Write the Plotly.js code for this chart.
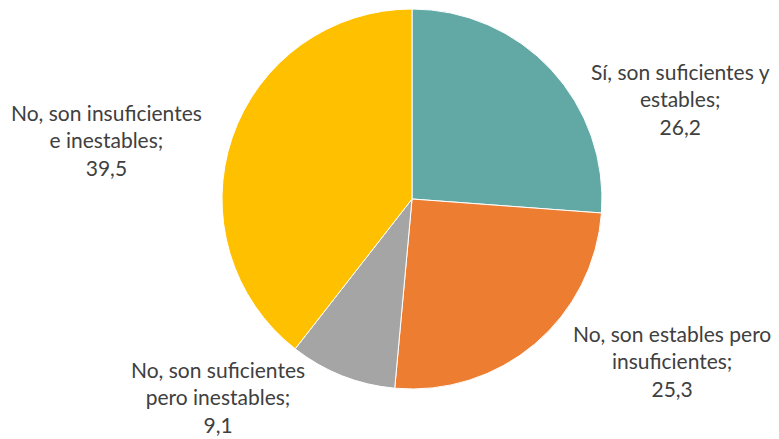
<!DOCTYPE html>
<html>
<head>
<meta charset="utf-8">
<script src="https://cdn.plot.ly/plotly-3.0.1.min.js"></script>
<style>html,body{margin:0;padding:0;background:#fff;}#chart{width:779px;height:439px;}</style>
</head>
<body>
<div id="chart"></div>
<script>
const categories = ["Sí, son suficientes y estables", "No, son estables pero insuficientes", "No, son suficientes pero inestables", "No, son insuficientes e inestables"];
const labelLines = ["Sí, son suficientes y<br>estables;", "No, son estables pero<br>insuficientes;", "No, son suficientes<br>pero inestables;", "No, son insuficientes<br>e inestables;"];
const values = [26.2, 25.3, 9.1, 39.5];
const colors = ["#62A9A6", "#ED7D31", "#A5A5A5", "#FFC000"];

const labelPos = [[680, 99], [672, 361], [218, 397], [106, 140]];

const fmt = v => v.toFixed(1).replace(".", ",");

const annotations = values.map((v, i) => ({
  xref: "paper", yref: "paper",
  x: labelPos[i][0] / 779, y: 1 - labelPos[i][1] / 439,
  xanchor: "center", yanchor: "middle",
  text: labelLines[i] + "<br>" + fmt(v),
  showarrow: false,
  align: "center",
  font: {family: "Lato, 'Open Sans', sans-serif", size: 21, color: "#404040"}
}));

Plotly.newPlot("chart", [{
  type: "pie",
  labels: categories,
  values: values,
  sort: false,
  direction: "clockwise",
  rotation: 0,
  marker: {colors: colors, line: {color: "#ffffff", width: 1}},
  textinfo: "none",
  hoverinfo: "label+value",
  domain: {x: [222/779, 602/779], y: [1 - 389/439, 1 - 9/439]}
}], {
  width: 779, height: 439,
  margin: {l: 0, r: 0, t: 0, b: 0},
  showlegend: false,
  paper_bgcolor: "#ffffff",
  annotations: annotations
}, {displayModeBar: false, staticPlot: true});
</script>
</body>
</html>
